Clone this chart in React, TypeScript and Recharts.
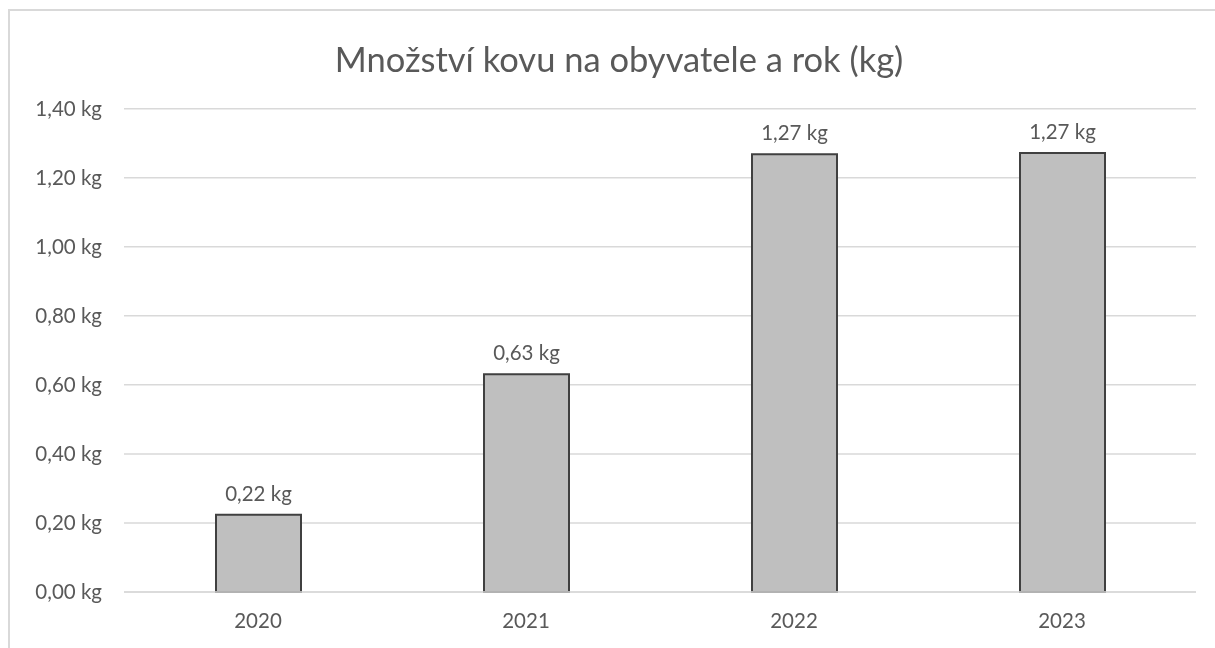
import { BarChart, Bar, XAxis, YAxis, CartesianGrid, LabelList } from 'recharts';

const years = ['2020', '2021', '2022', '2023'];
const kgPerPerson = [0.224, 0.631, 1.268, 1.272];
const yTicks = [0, 0.2, 0.4, 0.6, 0.8, 1.0, 1.2, 1.4];
const title = 'Množství kovu na obyvatele a rok (kg)';

const data = years.map((year, i) => ({ year, value: kgPerPerson[i] }));

const fmtKg = (v: number) => v.toFixed(2).replace('.', ',') + ' kg';

const FONT = 'Lato, "Noto Sans", sans-serif';
const TEXT = '#595959';

export default function App() {
    return (
        <div
            style={{
                position: 'fixed',
                left: 8,
                top: 8,
                width: 1207,
                height: 640,
                overflow: 'hidden',
                fontFamily: FONT
            }}
        >
            <div
                style={{
                    position: 'absolute',
                    left: 0,
                    top: 1,
                    width: 1230,
                    height: 660,
                    border: '2px solid #d9d9d9',
                    boxSizing: 'border-box'
                }}
            />
            <div
                style={{
                    position: 'absolute',
                    left: 0,
                    width: 1222,
                    top: 31,
                    textAlign: 'center',
                    fontSize: 34.5,
                    color: TEXT,
                    lineHeight: '40px'
                }}
            >
                {title}
            </div>
            <div style={{ position: 'absolute', left: 0, top: 0 }}>
                <BarChart
                    width={1207}
                    height={640}
                    data={data}
                    margin={{ top: 100.7, right: 19, left: 0, bottom: 26 }}
                >
                    <CartesianGrid stroke="#d9d9d9" strokeWidth={1.5} vertical={false} />
                    <XAxis
                        dataKey="year"
                        axisLine={{ stroke: '#d9d9d9', strokeWidth: 1.5 }}
                        tickLine={false}
                        tickSize={0}
                        tickMargin={21}
                        height={30}
                        tick={{ fill: TEXT, fontSize: 20.5, fontFamily: FONT }}
                    />
                    <YAxis
                        width={116}
                        domain={[0, 1.4]}
                        ticks={yTicks}
                        tickFormatter={fmtKg}
                        axisLine={false}
                        tickLine={false}
                        tickSize={0}
                        tickMargin={22}
                        tick={{ fill: TEXT, fontSize: 20.5, fontFamily: FONT }}
                    />
                    <Bar
                        dataKey="value"
                        fill="#bfbfbf"
                        stroke="#404040"
                        strokeWidth={2}
                        barSize={85}
                        isAnimationActive={false}
                    >
                        <LabelList
                            dataKey="value"
                            position="top"
                            offset={14}
                            formatter={(v: any) => fmtKg(Number(v))}
                            style={{ fill: TEXT, fontSize: 20.5, fontFamily: FONT }}
                        />
                    </Bar>
                </BarChart>
            </div>
        </div>
    );
}
